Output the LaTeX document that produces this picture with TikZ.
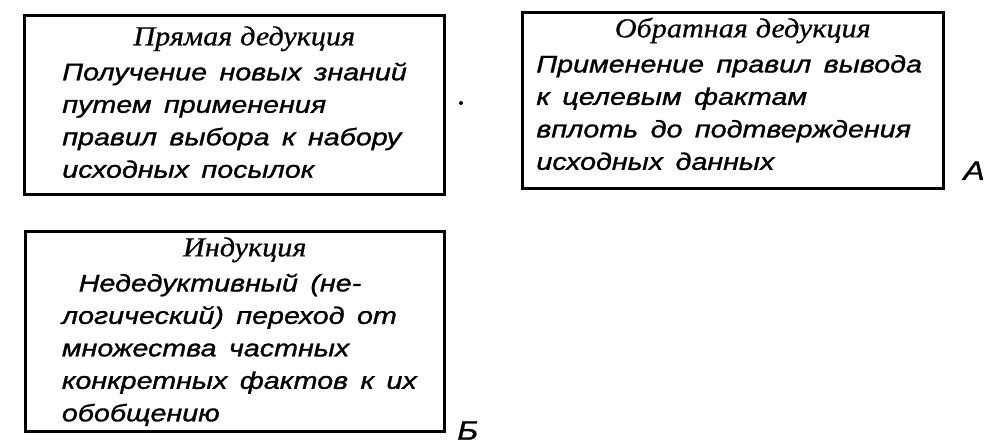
\documentclass[tikz,border=0pt]{standalone}
\usepackage{fontspec}
\setmainfont{Liberation Serif}
\setsansfont{Liberation Sans}
\newfontfamily\bodyfont[FakeStretch=1.2, FakeBold=1.2]{Liberation Sans}
\newfontfamily\headfont[FakeStretch=1.1, FakeBold=0.6]{Liberation Serif}

% heading line of a block: top gap, text
\newcommand{\blockhead}[2]{{\centering\leftskip=14pt plus 1fil\headfont\itshape\fontsize{19.5}{23.1}\selectfont\rule{0pt}{#1}#2\par}\vspace{1.8pt}}
% body of a block: left inset, bottom gap, lines
\newcommand{\blockbody}[3]{{\raggedright\leftskip=#1\relax\spaceskip=0.52em plus 0.1em\relax #3\rule[-#2]{0pt}{0pt}\par}}

\begin{document}
\begin{tikzpicture}[x=0.025cm, y=-0.025cm,
    box/.style={draw, line width=1.9pt, inner sep=0pt, anchor=north west,
      font=\bodyfont\itshape\fontsize{17}{23.1}\selectfont},
    mark label/.style={anchor=base west, inner sep=0pt,
      font=\bodyfont\itshape\fontsize{19}{20}\selectfont}]
  \useasboundingbox (0,0) rectangle (1004,444);

  \node[box, text width=10.5cm] (pryam) at (23,14) {\parindent=0pt
    \blockhead{21.3pt}{Прямая дедукция}
    \blockbody{27pt}{11.7pt}{Получение новых знаний\\
      путем применения\\
      правил выбора к набору\\
      исходных посылок}};

  \node[box, text width=10.525cm] (obrat) at (521,11) {\parindent=0pt
    \blockhead{17.8pt}{Обратная дедукция}
    \blockbody{10pt}{13.2pt}{Применение правил вывода\\
      к целевым фактам\\
      вплоть до подтверждения\\
      исходных данных}};

  \node[box, text width=10.475cm] (induk) at (24,230) {\parindent=0pt
    \blockhead{17.8pt}{Индукция}
    \blockbody{26pt}{7.1pt}{\hspace*{12pt}Недедуктивный (не-\\
      логический) переход от\\
      множества частных\\
      конкретных фактов к их\\
      обобщению}};

  \node[mark label] (markA) at ([xshift=13pt, yshift=7pt]obrat.south east) {А};
  \node[mark label] (markB) at ([xshift=8pt, yshift=-5pt]induk.south east) {Б};

  \fill (461,103) circle (2);
\end{tikzpicture}
\end{document}
